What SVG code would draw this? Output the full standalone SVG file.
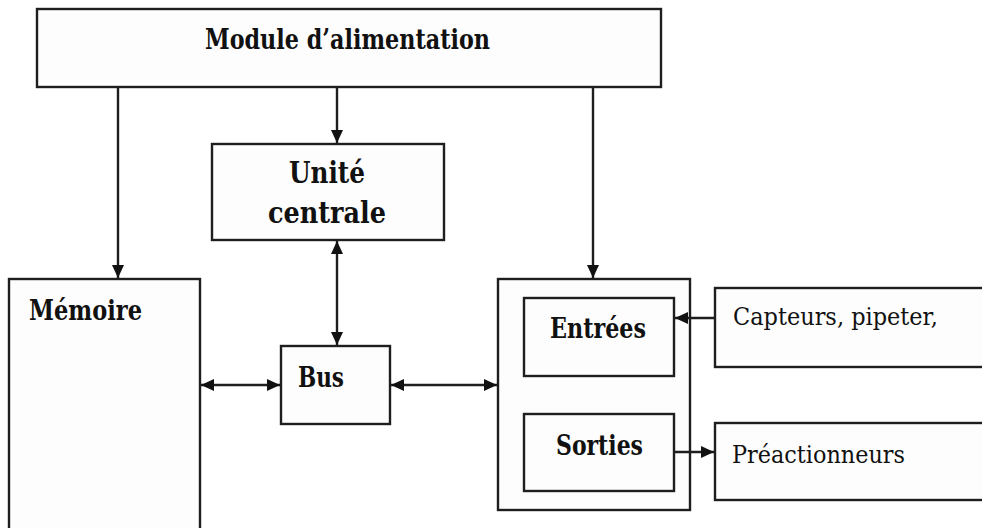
<svg xmlns="http://www.w3.org/2000/svg" width="982" height="528" viewBox="0 0 982 528">
<defs>
<style>
.box{fill:#fdfdfd;stroke:#1e1e1e;stroke-width:2.4}
.b{font-family:'DejaVu Serif','Liberation Serif',serif;font-weight:bold;fill:#111}
.r{font-family:'DejaVu Serif','Liberation Serif',serif;fill:#111}
.c{fill:none;stroke:#1e1e1e;stroke-width:2.4}
</style>
<marker id="ah" markerUnits="userSpaceOnUse" markerWidth="13" markerHeight="12" refX="13" refY="6" orient="auto-start-reverse" viewBox="0 0 13 12">
<path d="M0,0 L13,6 L0,12 z" fill="#111"/>
</marker>
</defs>
<rect width="982" height="528" fill="#fff"/>
<g id="module">
<rect class="box" x="37" y="9" width="624" height="78"/>
<text class="b" x="205" y="49" font-size="27" textLength="285" lengthAdjust="spacingAndGlyphs">Module d’alimentation</text>
</g>
<g id="unite">
<rect class="box" x="212" y="144" width="232" height="96"/>
<text class="b" x="289" y="183" font-size="30" textLength="76" lengthAdjust="spacingAndGlyphs">Unité</text>
<text class="b" x="268" y="223" font-size="30" textLength="118" lengthAdjust="spacingAndGlyphs">centrale</text>
</g>
<g id="memoire">
<rect class="box" x="9" y="279" width="191" height="260"/>
<text class="b" x="29" y="320" font-size="27" textLength="113" lengthAdjust="spacingAndGlyphs">Mémoire</text>
</g>
<g id="bus">
<rect class="box" x="281" y="346" width="109" height="78"/>
<text class="b" x="298" y="387" font-size="27" textLength="46" lengthAdjust="spacingAndGlyphs">Bus</text>
</g>
<g id="io">
<rect class="box" x="498" y="279" width="192" height="231"/>
</g>
<g id="entrees">
<rect class="box" x="524" y="298" width="150" height="78"/>
<text class="b" x="550" y="338" font-size="27" textLength="96" lengthAdjust="spacingAndGlyphs">Entrées</text>
</g>
<g id="sorties">
<rect class="box" x="524" y="414" width="150" height="77"/>
<text class="b" x="556" y="455" font-size="27" textLength="87" lengthAdjust="spacingAndGlyphs">Sorties</text>
</g>
<g id="capteurs">
<rect class="box" x="715" y="288" width="280" height="79"/>
<text class="r" x="733" y="325" font-size="25" textLength="205" lengthAdjust="spacingAndGlyphs">Capteurs, pipeter,</text>
</g>
<g id="preactionneurs">
<rect class="box" x="715" y="423" width="280" height="77"/>
<text class="r" x="732" y="463" font-size="25" textLength="173" lengthAdjust="spacingAndGlyphs">Préactionneurs</text>
</g>
<g id="connectors">
<path class="c" d="M118,87 V278" marker-end="url(#ah)"/>
<path class="c" d="M337,87 V143" marker-end="url(#ah)"/>
<path class="c" d="M593,87 V278" marker-end="url(#ah)"/>
<path class="c" d="M337,241 V345" marker-start="url(#ah)" marker-end="url(#ah)"/>
<path class="c" d="M201,385 H280" marker-start="url(#ah)" marker-end="url(#ah)"/>
<path class="c" d="M391,385 H497" marker-start="url(#ah)" marker-end="url(#ah)"/>
<path class="c" d="M715,318 H675" marker-end="url(#ah)"/>
<path class="c" d="M675,452 H714" marker-end="url(#ah)"/>
</g>
</svg>
